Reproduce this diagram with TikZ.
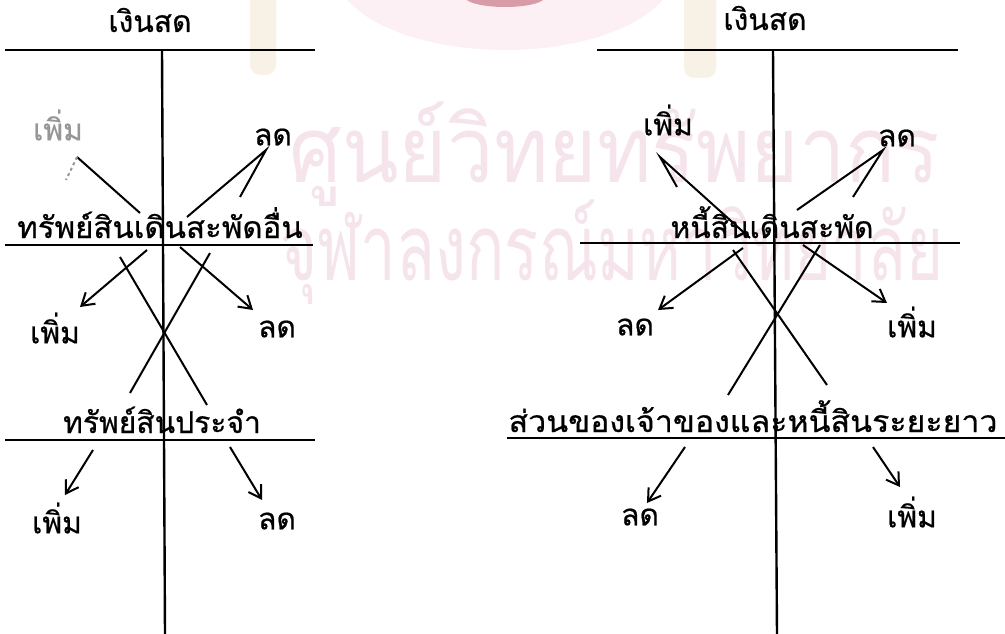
\documentclass[tikz,border=0pt]{standalone}
\usepackage{fontspec}
\newfontfamily\thai[Script=Thai]{Loma}
\newfontfamily\thaiink[Script=Thai,FakeBold=0.6]{Loma}
\usetikzlibrary{arrows.meta}
\definecolor{wmark}{RGB}{245,228,236}
\definecolor{crest}{RGB}{190,90,110}
\definecolor{crestpink}{RGB}{252,240,244}
\definecolor{crestgold}{RGB}{248,242,230}
\definecolor{faint}{RGB}{150,150,150}
\begin{document}
\begin{tikzpicture}[x=1pt,y=-1pt,
  lbl/.style={font=\thaiink\fontsize{30}{34}\selectfont, inner sep=0pt},
  head/.style={font=\thaiink\fontsize{30}{34}\selectfont, inner sep=0pt, anchor=base},
  wmtext/.style={font=\thai\fontsize{92}{100}\selectfont, text=wmark, inner sep=0pt, anchor=base},
  rule/.style={line width=2.4pt},
  flow/.style={line width=2pt, -{Straight Barb[length=12pt,width=15pt,line width=2pt]}},
  harp/.style={line width=2pt, line join=miter, miter limit=20},
]
\useasboundingbox (0,0) rectangle (1005,634);

% ---- background crest and watermark ----
\fill[crestpink] (505,-30) ellipse (170 and 80);
\fill[crest!60] (505,-3) ellipse (40 and 10);
\fill[crestgold, rounded corners=10pt] (250,-10) rectangle (276,75);
\fill[crestgold, rounded corners=10pt] (684,-10) rectangle (716,78);
\node[wmtext, xscale=0.9] (wm1) at (615,182) {ศูนย์วิทยทรัพยากร};
\node[wmtext, xscale=0.69] (wm2) at (612,280) {จุฬาลงกรณ์มหาวิทยาลัย};

% ================= left: cash vs other current assets and fixed assets =================
\draw[rule] (5,50) -- (315,50);
\draw[rule] (162,50) -- (165,634);
\node[head] (lcash) at (150,32) {เงินสด};
\node[lbl, text=faint] (linc1) at (58,125) {เพิ่ม};
\node[lbl] (ldec1) at (273,137) {ลด};

\node[head, xscale=1.04] (lcur) at (160,238) {ทรัพย์สินเดินสะพัดอื่น};
\draw[rule] (5,245) -- (313,245);
\node[lbl] (linc2) at (55,328) {เพิ่ม};
\node[lbl] (ldec2) at (277,329) {ลด};

\node[head] (lfix) at (162,433) {ทรัพย์สินประจำ};
\draw[rule] (5,440) -- (315,440);
\node[lbl] (linc3) at (57,518) {เพิ่ม};
\node[lbl] (ldec3) at (277,521) {ลด};

% harpoons up to the cash labels
\coordinate (la1) at (140,213);
\coordinate (la1t) at (77,157);
\coordinate (la1b) at (66,180);
\draw[harp] (la1) -- (la1t);
\draw[harp, faint, dashed] (la1t) -- (la1b);
\coordinate (la2) at (187,217);
\coordinate (la2t) at (266,150);
\coordinate (la2b) at (240,197);
\draw[harp] (la2) -- (la2t) -- (la2b);

% arrows to the current-asset labels
\coordinate (la3) at (147,250);
\coordinate (la4) at (180,247);
\draw[flow] (la3) -- (80,307) coordinate (la3e);
\draw[flow] (la4) -- (253,310) coordinate (la4e);

% cross between the two lower accounts
\coordinate (lx1) at (120,257);
\coordinate (lx2) at (207,405);
\coordinate (lx3) at (210,253);
\coordinate (lx4) at (130,393);
\draw[harp] (lx1) -- (lx2);
\draw[harp] (lx3) -- (lx4);

% arrows to the fixed-asset labels
\coordinate (la5) at (93,450);
\coordinate (la6) at (230,447);
\draw[flow] (la5) -- (65,495) coordinate (la5e);
\draw[flow] (la6) -- (262,500) coordinate (la6e);

% ================= right: cash vs current liabilities and long-term funds =================
\draw[rule] (597,50) -- (958,50);
\draw[rule] (773,50) -- (777,634);
\node[head] (rcash) at (765,30) {เงินสด};
\node[lbl] (rinc1) at (668,120) {เพิ่ม};
\node[lbl] (rdec1) at (897,138) {ลด};

\node[head] (rcur) at (772,238) {หนี้สินเดินสะพัด};
\draw[rule] (580,243) -- (960,243);
\node[lbl] (rdec2) at (635,327) {ลด};
\node[lbl] (rinc2) at (912,322) {เพิ่ม};

\node[head, xscale=1.07] (rlong) at (753,432) {ส่วนของเจ้าของและหนี้สินระยะยาว};
\draw[rule] (507,438) -- (1005,438);
\node[lbl] (rdec3) at (640,517) {ลด};
\node[lbl] (rinc3) at (912,512) {เพิ่ม};

% harpoons up to the cash labels
\coordinate (ra1) at (750,238);
\coordinate (ra1t) at (660,157);
\coordinate (ra1b) at (677,187);
\draw[harp] (ra1) -- (ra1t) -- (ra1b);
\coordinate (ra2) at (797,210);
\coordinate (ra2t) at (883,150);
\coordinate (ra2b) at (853,197);
\draw[harp] (ra2) -- (ra2t) -- (ra2b);

% arrows to the current-liability labels
\coordinate (ra3) at (743,248);
\coordinate (ra4) at (803,245);
\draw[flow] (ra3) -- (658,310) coordinate (ra3e);
\draw[flow] (ra4) -- (887,303) coordinate (ra4e);

% cross between the two lower accounts
\coordinate (rx1) at (733,250);
\coordinate (rx2) at (827,385);
\coordinate (rx3) at (820,245);
\coordinate (rx4) at (728,395);
\draw[harp] (rx1) -- (rx2);
\draw[harp] (rx3) -- (rx4);

% arrows to the long-term labels
\coordinate (ra5) at (685,447);
\coordinate (ra6) at (873,447);
\draw[flow] (ra5) -- (647,503) coordinate (ra5e);
\draw[flow] (ra6) -- (900,487) coordinate (ra6e);
\end{tikzpicture}
\end{document}
